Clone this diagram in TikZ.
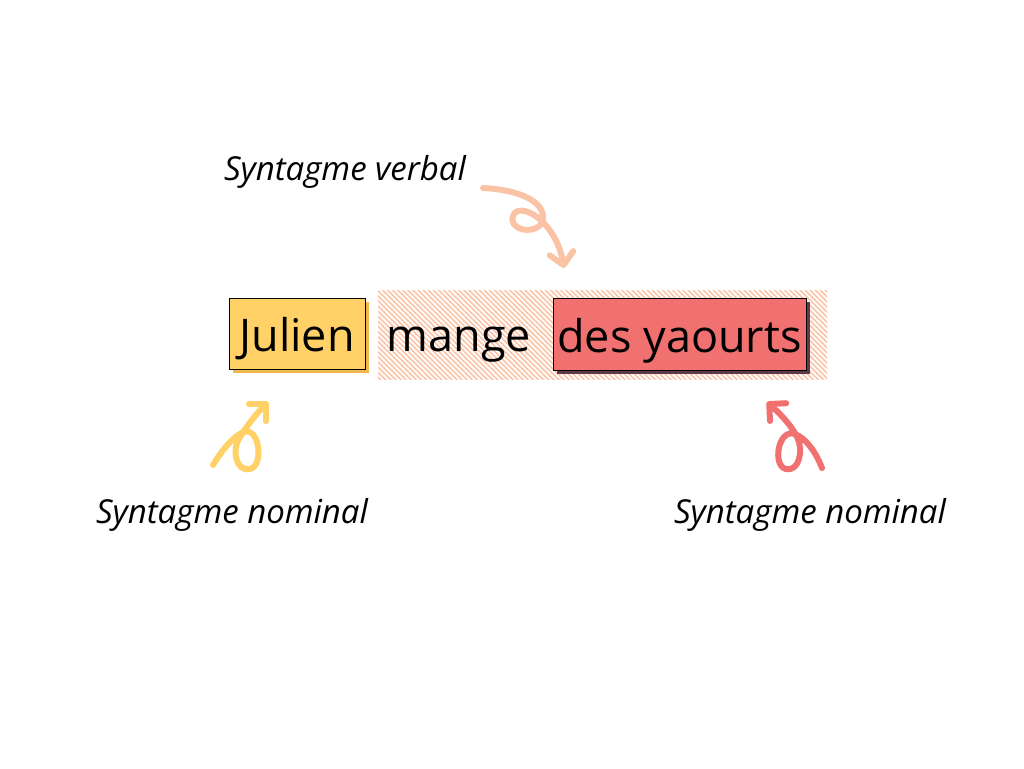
\documentclass[tikz,border=0pt]{standalone}
\usepackage{fontspec}
\setmainfont{Open Sans}
\usetikzlibrary{arrows.meta,patterns.meta,shadows}
\definecolor{amarillo}{HTML}{FFD166}
\definecolor{amarillooscuro}{HTML}{F2B84B}
\definecolor{rojo}{HTML}{F17171}
\definecolor{rojooscuro}{HTML}{5E3A48}
\definecolor{melocoton}{HTML}{FBC3A5}

\begin{document}
\begin{tikzpicture}[
    x=1pt, y=-1pt,
    palabra/.style={inner sep=0pt, text height=36pt, text depth=0pt, font=\fontsize{45}{50}\selectfont},
    caja/.style={palabra, draw=black, line width=1pt, minimum height=71pt},
    sombra/.style={drop shadow={shadow xshift=4pt, shadow yshift=-4pt, opacity=1, fill=#1}},
    etiqueta/.style={anchor=base, font=\fontsize{33}{38}\selectfont\itshape},
    flecha/.style={line width=6pt, line cap=round, line join=round,
        -{Straight Barb[length=12pt, width=24pt, line cap=round, line join=round]}}
]
    \useasboundingbox (0,0) rectangle (1024,768);

    % Zona rayada del sintagma verbal
    \node[minimum width=449pt, minimum height=89pt, inner sep=0pt,
        pattern={Lines[angle=-45, distance=3.6pt, line width=1.6pt]}, pattern color=melocoton] (sv) at (602.5,334.5) {};

    % Palabras de la frase
    \node[caja, fill=amarillo, minimum width=136pt, sombra=amarillooscuro] (julien) at (297,333.5) {Julien};
    \node[palabra] (mange) at (459,333.5) {mange};
    \node[caja, fill=rojo, minimum width=253pt, minimum height=72pt, sombra=rojooscuro] (yaourts) at (679.5,334) {des yaourts};

    % Etiquetas
    \node[etiqueta] (verbal) at (345,180) {Syntagme verbal};
    \node[etiqueta] (nominal1) at (232,523) {Syntagme nominal};
    \node[etiqueta] (nominal2) at (810,523) {Syntagme nominal};

    % Flechas dibujadas a mano
    \coordinate (v0) at (483,188);
    \coordinate (v1) at (564,268);
    \coordinate (n0) at (213,465);
    \coordinate (n1) at (268,402);
    \coordinate (m0) at (822,468);
    \coordinate (m1) at (767,402);
    \draw[flecha, melocoton] (v0) .. controls (525,190) and (548,205) .. (542,222)
        .. controls (536,236) and (505,230) .. (514,214)
        .. controls (522,202) and (556,222) .. (v1);
    \draw[flecha, amarillo] (n0) .. controls (222,450) and (232,438) .. (243,432)
        .. controls (260,426) and (264,466) .. (250,469)
        .. controls (236,472) and (231,450) .. (240,437)
        .. controls (248,424) and (258,412) .. (n1);
    \draw[flecha, rojo] (m0) .. controls (815,450) and (805,438) .. (795,434)
        .. controls (778,428) and (772,466) .. (786,469)
        .. controls (799,472) and (804,450) .. (797,437)
        .. controls (790,423) and (778,412) .. (m1);
\end{tikzpicture}
\end{document}
